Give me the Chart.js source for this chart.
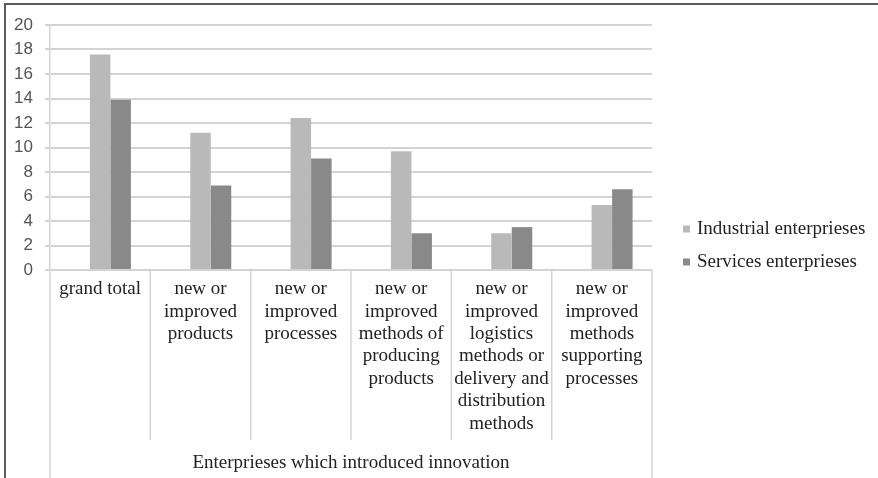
<!DOCTYPE html>
<html>
<head>
<meta charset="utf-8">
<script src="https://cdn.jsdelivr.net/npm/chart.js@4.4.1/dist/chart.umd.min.js"></script>
<style>
  html, body { margin: 0; padding: 0; background: #fff; }
  #wrap { position: relative; width: 878px; height: 478px; }
  #frame {
    position: absolute; left: 4px; top: 3px; right: 0; bottom: 0;
    border-left: 2px solid #5a5a5a; border-top: 2px solid #5a5a5a;
    pointer-events: none;
  }
</style>
</head>
<body>
<div id="wrap">
  <canvas id="chart" width="878" height="478"></canvas>
  <div id="frame"></div>
</div>
<script>
// Innovation categories (multi-line axis labels)
const categories = [
  ['grand total'],
  ['new or', 'improved', 'products'],
  ['new or', 'improved', 'processes'],
  ['new or', 'improved', 'methods of', 'producing', 'products'],
  ['new or', 'improved', 'logistics', 'methods or', 'delivery and', 'distribution', 'methods'],
  ['new or', 'improved', 'methods', 'supporting', 'processes']
];
const groupTitle = 'Enterprieses which introduced innovation';
const seriesNames = ['Industrial enterprieses', 'Services enterprieses'];
const industrial = [17.6, 11.2, 12.4, 9.7, 3.0, 5.3];
const services = [13.9, 6.9, 9.1, 3.0, 3.5, 6.6];
const yTicks = [0, 2, 4, 6, 8, 10, 12, 14, 16, 18, 20];

const GRID = '#d3d3d3';
const serif = "'Liberation Serif', 'Times New Roman', serif";

// Vertical separators below the axis: between categories and at both outer edges
const separators = {
  id: 'separators',
  afterDraw(chart) {
    const x = chart.scales.x, area = chart.chartArea, ctx = chart.ctx;
    const n = chart.data.labels.length;
    const half = (x.getPixelForValue(1) - x.getPixelForValue(0)) / 2;
    ctx.save();
    ctx.strokeStyle = GRID;
    ctx.lineWidth = 1.5;
    for (let i = 0; i <= n; i++) {
      const px = i < n ? x.getPixelForValue(i) - half : x.getPixelForValue(n - 1) + half;
      const edge = (i === 0 || i === n);
      ctx.beginPath();
      ctx.moveTo(px, area.bottom);
      ctx.lineTo(px, edge ? chart.height : 440);
      ctx.stroke();
    }
    ctx.restore();
  }
};

// Legend on the right: small squares followed by the series names
const sideLegend = {
  id: 'sideLegend',
  afterDraw(chart) {
    const ctx = chart.ctx;
    const items = chart.data.datasets.filter(d => d.label);
    ctx.save();
    ctx.font = '19px ' + serif;
    ctx.textBaseline = 'middle';
    ctx.textAlign = 'left';
    items.forEach((d, i) => {
      const cy = 229 + i * 33;
      ctx.fillStyle = d.backgroundColor;
      ctx.fillRect(683, cy - 3.5, 7, 7);
      ctx.fillStyle = '#222';
      ctx.fillText(d.label, 697, cy);
    });
    ctx.restore();
  }
};

new Chart(document.getElementById('chart'), {
  type: 'bar',
  data: {
    labels: categories,
    datasets: [
      { label: '', data: categories.map(() => null), backgroundColor: 'rgba(0,0,0,0)' },
      { label: seriesNames[0], data: industrial, backgroundColor: '#b9b9b9' },
      { label: seriesNames[1], data: services, backgroundColor: '#898989' }
    ]
  },
  options: {
    responsive: false,
    animation: false,
    events: [],
    layout: { padding: { top: 25, right: 226, left: 0, bottom: 0 } },
    datasets: { bar: { categoryPercentage: 0.613, barPercentage: 1 } },
    plugins: { legend: { display: false }, tooltip: { enabled: false } },
    scales: {
      x: {
        afterFit(scale) { scale.height = 208; },
        grid: { display: false, drawTicks: false },
        border: { display: false },
        ticks: {
          padding: 8,
          maxRotation: 0,
          autoSkip: false,
          color: '#222',
          font: { family: serif, size: 19, lineHeight: 1.18 }
        },
        title: {
          display: true,
          text: groupTitle,
          color: '#222',
          font: { family: serif, size: 19, lineHeight: 1.18 },
          padding: { top: 0, bottom: 4 }
        }
      },
      y: {
        min: 0,
        max: 20,
        afterFit(scale) { scale.width = 50; },
        afterBuildTicks(scale) { scale.ticks = yTicks.map(v => ({ value: v })); },
        grid: { color: GRID, lineWidth: 2, tickLength: 5, drawTicks: true },
        border: { color: GRID, width: 1.5 },
        ticks: {
          padding: 12,
          color: '#555',
          font: { family: "'Liberation Sans', Arial, sans-serif", size: 17 }
        }
      }
    }
  },
  plugins: [separators, sideLegend]
});
</script>
</body>
</html>
